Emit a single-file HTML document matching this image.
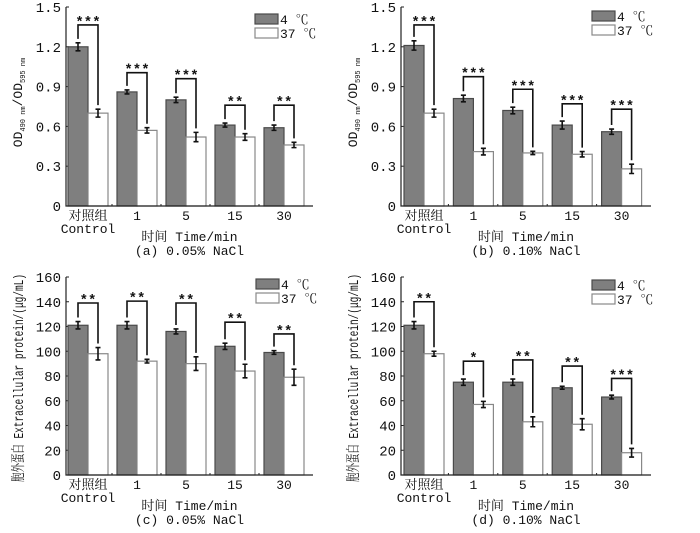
<!DOCTYPE html>
<html><head><meta charset="utf-8"><style>
html,body{margin:0;padding:0;background:#fff;}
svg{display:block;}
text{font-family:"Liberation Mono","Noto Serif CJK SC",monospace;fill:#111;}
</style></head><body>
<svg id="chart" width="700" height="533" viewBox="0 0 700 533"></svg>
<script>
const categories = ["对照组", "1", "5", "15", "30"];
const seriesNames = ["4 ℃", "37 ℃"];
const aCold = [1.20, 0.86, 0.80, 0.61, 0.59];
const aColdErr = [0.03, 0.015, 0.02, 0.015, 0.02];
const aWarm = [0.70, 0.57, 0.52, 0.52, 0.46];
const aWarmErr = [0.03, 0.02, 0.035, 0.025, 0.02];
const aSig = ["***", "***", "***", "**", "**"];
const aBracket = [1.365, 1.005, 0.96, 0.76, 0.76];
const bCold = [1.21, 0.81, 0.72, 0.61, 0.56];
const bColdErr = [0.035, 0.025, 0.025, 0.03, 0.02];
const bWarm = [0.70, 0.41, 0.40, 0.39, 0.28];
const bWarmErr = [0.03, 0.025, 0.012, 0.02, 0.035];
const bSig = ["***", "***", "***", "***", "***"];
const bBracket = [1.365, 0.975, 0.88, 0.77, 0.73];
const cCold = [121, 121, 116, 104, 99];
const cColdErr = [3, 3, 2, 2.5, 1.5];
const cWarm = [98, 92, 90, 84, 79];
const cWarmErr = [5, 1.5, 5.5, 5.5, 6.5];
const cSig = ["**", "**", "**", "**", "**"];
const cBracket = [139, 140.5, 139, 123.5, 114];
const dCold = [121, 75, 75, 70.5, 63];
const dColdErr = [3, 2.5, 2.5, 1.2, 1.5];
const dWarm = [98, 57, 43, 41, 18];
const dWarmErr = [2, 2.5, 4, 4.5, 3.5];
const dSig = ["**", "*", "**", "**", "***"];
const dBracket = [140, 92, 93, 88, 78];
const odTicks = ["0", "0.3", "0.6", "0.9", "1.2", "1.5"];
const protTicks = ["0", "20", "40", "60", "80", "100", "120", "140", "160"];

const svg = document.getElementById('chart');
const NS = 'http://www.w3.org/2000/svg';
function mk(tag, attrs, parent, txt) {
  const e = document.createElementNS(NS, tag);
  for (const k in attrs) e.setAttribute(k, attrs[k]);
  if (txt !== undefined) e.textContent = txt;
  (parent || svg).appendChild(e);
  return e;
}
const panels = [
  {id:'a', ox:66, x0:68, zy:206, ty:7, max:1.5, ticks:odTicks, xend:313, cold:aCold, ce:aColdErr, warm:aWarm, we:aWarmErr, sig:aSig, br:aBracket, cap:"(a) 0.05% NaCl", od:true, lx:255, ly:14},
  {id:'b', ox:401, x0:404, zy:206, ty:7, max:1.5, ticks:odTicks, xend:651, cold:bCold, ce:bColdErr, warm:bWarm, we:bWarmErr, sig:bSig, br:bBracket, cap:"(b) 0.10% NaCl", od:true, lx:592, ly:11},
  {id:'c', ox:66, x0:68, zy:475, ty:277, max:160, ticks:protTicks, xend:313, cold:cCold, ce:cColdErr, warm:cWarm, we:cWarmErr, sig:cSig, br:cBracket, cap:"(c) 0.05% NaCl", od:false, lx:256, ly:279},
  {id:'d', ox:401, x0:404, zy:475, ty:277, max:160, ticks:protTicks, xend:651, cold:dCold, ce:dColdErr, warm:dWarm, we:dWarmErr, sig:dSig, br:dBracket, cap:"(d) 0.10% NaCl", od:false, lx:592, ly:280}
];
panels.forEach(p => {
  const g = mk('g', {});
  
  
  const y = v => p.zy - (v / p.max) * (p.zy - p.ty);
  const gw = (p.xend - p.x0) / 5, bw = 20;
  p.ticks.forEach((t, i) => {
    const v = p.max * i / (p.ticks.length - 1);
    const yy = y(v);
    const tl = mk('line', {x1:p.ox, x2:p.ox+3, y1:yy, y2:yy, stroke:'#222', 'stroke-width':1}, g);
    
    
    const tx = mk('text', {x:p.ox-5, y:yy+5, 'text-anchor':'end', 'font-size':14, 'font-family':'"Liberation Serif",serif'}, g, t);
    
    
  });
  categories.forEach((c, i) => {
    const gx = p.x0 + i * gw;
    const bars = [[p.cold[i], p.ce[i], '#7f7f7f', '#4a4a4a', gx], [p.warm[i], p.we[i], '#fff', '#888', gx + bw]];
    bars.forEach((b, j) => {
      const r = mk('rect', {x:b[4], y:y(b[0]), width:bw, height:p.zy - y(b[0]), fill:b[2], stroke:b[3], 'stroke-width':1.2}, g);
      
      
      const cx = b[4] + bw / 2, y1 = y(b[0] + b[1]), y2 = y(b[0] - b[1]);
      const e = mk('path', {d:`M${cx},${y1}V${y2}M${cx-2.5},${y1}H${cx+2.5}M${cx-2.5},${y2}H${cx+2.5}`, stroke:'#111', 'stroke-width':1.6, fill:'none'}, g);
      
      
    });
    const lx = gx + bw / 2, rx = gx + bw * 1.5, by = y(p.br[i]);
    const ly = y(p.cold[i] + p.ce[i]) - 4, ry = y(p.warm[i] + p.we[i]) - 4;
    const br = mk('path', {d:`M${lx},${ly}V${by}H${rx}V${ry}`, stroke:'#111', 'stroke-width':1.6, fill:'none'}, g);
    
    
    const st = mk('text', {x:(lx+rx)/2, y:by+1, 'text-anchor':'middle', 'font-size':14, 'font-weight':'bold'}, g, p.sig[i]);
    
    
    const xl = mk('text', {x:gx + bw, y:p.zy + 14, 'text-anchor':'middle', 'font-size':13}, g, c);
    
    
    if (i > 0) {
      const tk = mk('line', {x1:gx - 5, x2:gx - 5, y1:p.zy, y2:p.zy - 2, stroke:'#222'}, g);
      
      
    }
  });
  const ctl = mk('text', {x:p.x0 + bw, y:p.zy + 27, 'text-anchor':'middle', 'font-size':13}, g, 'Control');
  
  
  const ax = mk('path', {d:`M${p.ox},${p.ty}V${p.zy}H${p.xend}`, stroke:'#222', 'stroke-width':1.2, fill:'none'}, g);
  
  
  const xt = mk('text', {x:(p.ox + p.xend)/2, y:p.zy + 35, 'text-anchor':'middle', 'font-size':13}, g, '时间 Time/min');
  
  
  const cp = mk('text', {x:(p.ox + p.xend)/2, y:p.zy + 49, 'text-anchor':'middle', 'font-size':13}, g, p.cap);
  
  
  const cy = (p.ty + p.zy) / 2, tx = p.ox - 44;
  let yt;
  if (p.od) {
    yt = mk('text', {x:0, y:0, 'text-anchor':'middle', 'font-size':13, 'font-family':'"Liberation Serif",serif', transform:`translate(${tx},${cy - 4}) rotate(-90)`}, g);
    yt.innerHTML = 'OD<tspan font-size="7" dy="3">490 nm</tspan><tspan dy="-3">/OD</tspan><tspan font-size="7" dy="3">595 nm</tspan>';
  } else {
    yt = mk('text', {x:0, y:0, 'text-anchor':'middle', 'font-size':14, 'font-family':'"Liberation Serif","Noto Serif CJK SC",serif', textLength:208, lengthAdjust:'spacingAndGlyphs', transform:`translate(${tx + 1},${cy + 2}) rotate(-90)`}, g, '胞外蛋白 Extracellular protein/(μg/mL)');
  }
  
  
  seriesNames.forEach((n, j) => {
    const ry = p.ly + j * 14;
    const lr = mk('rect', {x:p.lx, y:ry, width:23, height:10, fill:j ? '#fff' : '#7f7f7f', stroke:j ? '#888' : '#4a4a4a', 'stroke-width':1.2}, g);
    
    
    const lt = mk('text', {x:p.lx + 25, y:ry + 10, 'font-size':13, 'font-family':'"Liberation Serif","Noto Serif CJK SC",serif'}, g, n);
    
    
  });
});
</script>
</body></html>
